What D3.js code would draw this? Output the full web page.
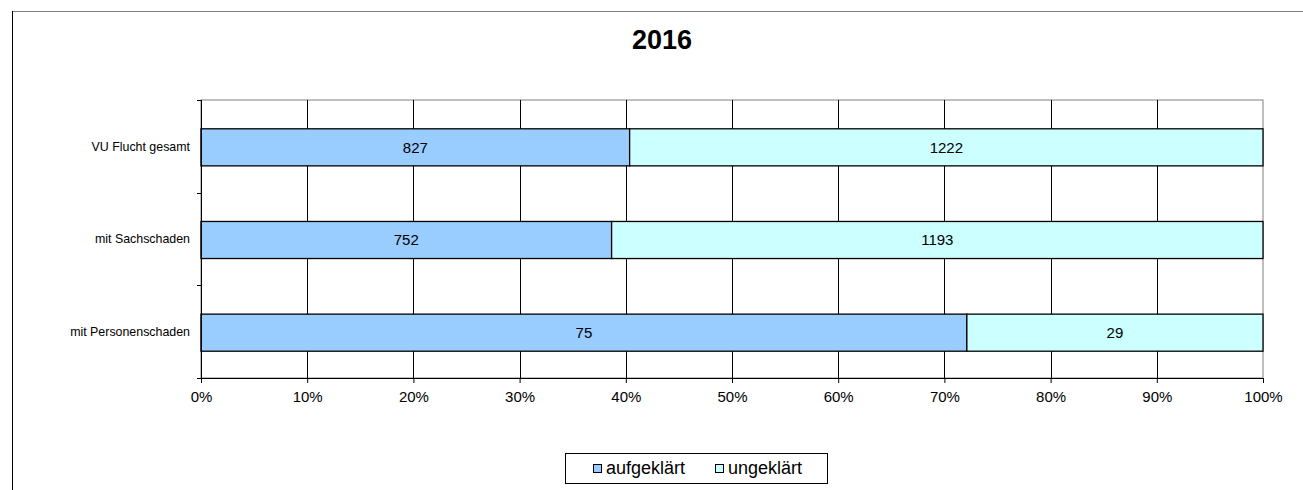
<!DOCTYPE html>
<html>
<head>
<meta charset="utf-8">
<script src="https://cdn.jsdelivr.net/npm/d3@7"></script>
<style>
  body { margin: 0; background: #fff; }
  text { font-family: Arial, "Liberation Sans", sans-serif; }
</style>
</head>
<body>
<div id="chart"></div>
<script>
// categories top to bottom
var categories = ["VU Flucht gesamt", "mit Sachschaden", "mit Personenschaden"];
var seriesNames = ["aufgeklärt", "ungeklärt"];
var aufgeklaert = [827, 752, 75];
var ungeklaert = [1222, 1193, 29];
var seriesColors = ["#99ccff", "#ccffff"];
var tickValues = [0, 0.1, 0.2, 0.3, 0.4, 0.5, 0.6, 0.7, 0.8, 0.9, 1];

var width = 1303, height = 490;
var margin = {left: 201, right: 40, top: 100, bottom: 112};

var svg = d3.select("#chart").append("svg")
  .attr("width", width)
  .attr("height", height);

// outer chart frame (top and left edges visible)
svg.append("line").attr("x1", 12).attr("x2", width).attr("y1", 11.5).attr("y2", 11.5)
  .attr("stroke", "#808080").attr("stroke-width", 1);
svg.append("line").attr("x1", 12.5).attr("x2", 12.5).attr("y1", 11).attr("y2", height)
  .attr("stroke", "#000").attr("stroke-width", 1);

svg.append("text")
  .attr("x", 662).attr("y", 49)
  .attr("text-anchor", "middle")
  .attr("font-size", 27).attr("font-weight", "bold")
  .text("2016");

var x = d3.scaleLinear().domain([0, 1]).range([margin.left, width - margin.right]);
var y = d3.scaleBand().domain(categories).range([margin.top, height - margin.bottom]).paddingInner(0.6).paddingOuter(0.3);
var yOuter = d3.scaleBand().domain(categories).range([margin.top, height - margin.bottom]);

// plot frame top/right in gray
svg.append("rect")
  .attr("x", x(0)).attr("y", margin.top)
  .attr("width", x(1) - x(0)).attr("height", height - margin.bottom - margin.top)
  .attr("fill", "none").attr("stroke", "#808080");

// vertical gridlines
svg.selectAll("line.grid").data(tickValues.slice(1, -1)).enter().append("line")
  .attr("class", "grid")
  .attr("x1", function(d) { return Math.round(x(d)) + 0.5; })
  .attr("x2", function(d) { return Math.round(x(d)) + 0.5; })
  .attr("y1", margin.top).attr("y2", height - margin.bottom)
  .attr("stroke", "#000");

var rows = categories.map(function(c, i) {
  var total = aufgeklaert[i] + ungeklaert[i];
  return {cat: c, vals: [aufgeklaert[i], ungeklaert[i]], total: total};
});

rows.forEach(function(r) {
  var start = 0;
  r.vals.forEach(function(v, j) {
    var s = start / r.total, e = (start + v) / r.total;
    svg.append("rect")
      .attr("x", x(s)).attr("y", y(r.cat) + 1)
      .attr("width", x(e) - x(s)).attr("height", y.bandwidth())
      .attr("fill", seriesColors[j]).attr("stroke", "#000").attr("stroke-width", 1.3);
    svg.append("text")
      .attr("x", (x(s) + x(e)) / 2)
      .attr("y", y(r.cat) + 1 + y.bandwidth() / 2)
      .attr("dy", "0.35em")
      .attr("text-anchor", "middle")
      .attr("font-size", 15)
      .text(v);
    start += v;
  });
});

// x axis
var xAxis = svg.append("g")
  .attr("transform", "translate(0," + (height - margin.bottom) + ")")
  .call(d3.axisBottom(x).tickValues(tickValues).tickFormat(d3.format(".0%")).tickSize(5).tickPadding(8));
xAxis.select(".domain").attr("stroke", "#000");
xAxis.selectAll("text").attr("font-size", 15).attr("font-family", "Arial, 'Liberation Sans', sans-serif");

// y axis: ticks at band boundaries, labels centred on bands
var yBounds = categories.map(function(c) { return yOuter(c); }).concat([height - margin.bottom]);
svg.append("line").attr("x1", x(0) + 0.5).attr("x2", x(0) + 0.5)
  .attr("y1", margin.top).attr("y2", height - margin.bottom).attr("stroke", "#000");
svg.selectAll("line.ytick").data(yBounds).enter().append("line")
  .attr("class", "ytick")
  .attr("x1", x(0) - 4).attr("x2", x(0))
  .attr("y1", function(d) { return Math.round(d) + 0.5; })
  .attr("y2", function(d) { return Math.round(d) + 0.5; })
  .attr("stroke", "#000");
svg.selectAll("text.ylab").data(categories).enter().append("text")
  .attr("class", "ylab")
  .attr("x", x(0) - 11)
  .attr("y", function(d) { return yOuter(d) + yOuter.bandwidth() / 2; })
  .attr("dy", "0.35em")
  .attr("text-anchor", "end")
  .attr("font-size", 12.4)
  .text(function(d) { return d; });

// legend
var legend = svg.append("g").attr("transform", "translate(565,453)");
legend.append("rect").attr("x", 0.5).attr("y", 0.5).attr("width", 262).attr("height", 30)
  .attr("fill", "#fff").attr("stroke", "#000");
var legendX = [28, 150];
seriesNames.forEach(function(n, i) {
  legend.append("rect")
    .attr("x", legendX[i] + 0.5).attr("y", 11.5).attr("width", 8).attr("height", 8)
    .attr("fill", seriesColors[i]).attr("stroke", "#000");
  legend.append("text")
    .attr("x", legendX[i] + 13).attr("y", 20.5)
    .attr("font-size", 18)
    .text(n);
});
</script>
</body>
</html>
